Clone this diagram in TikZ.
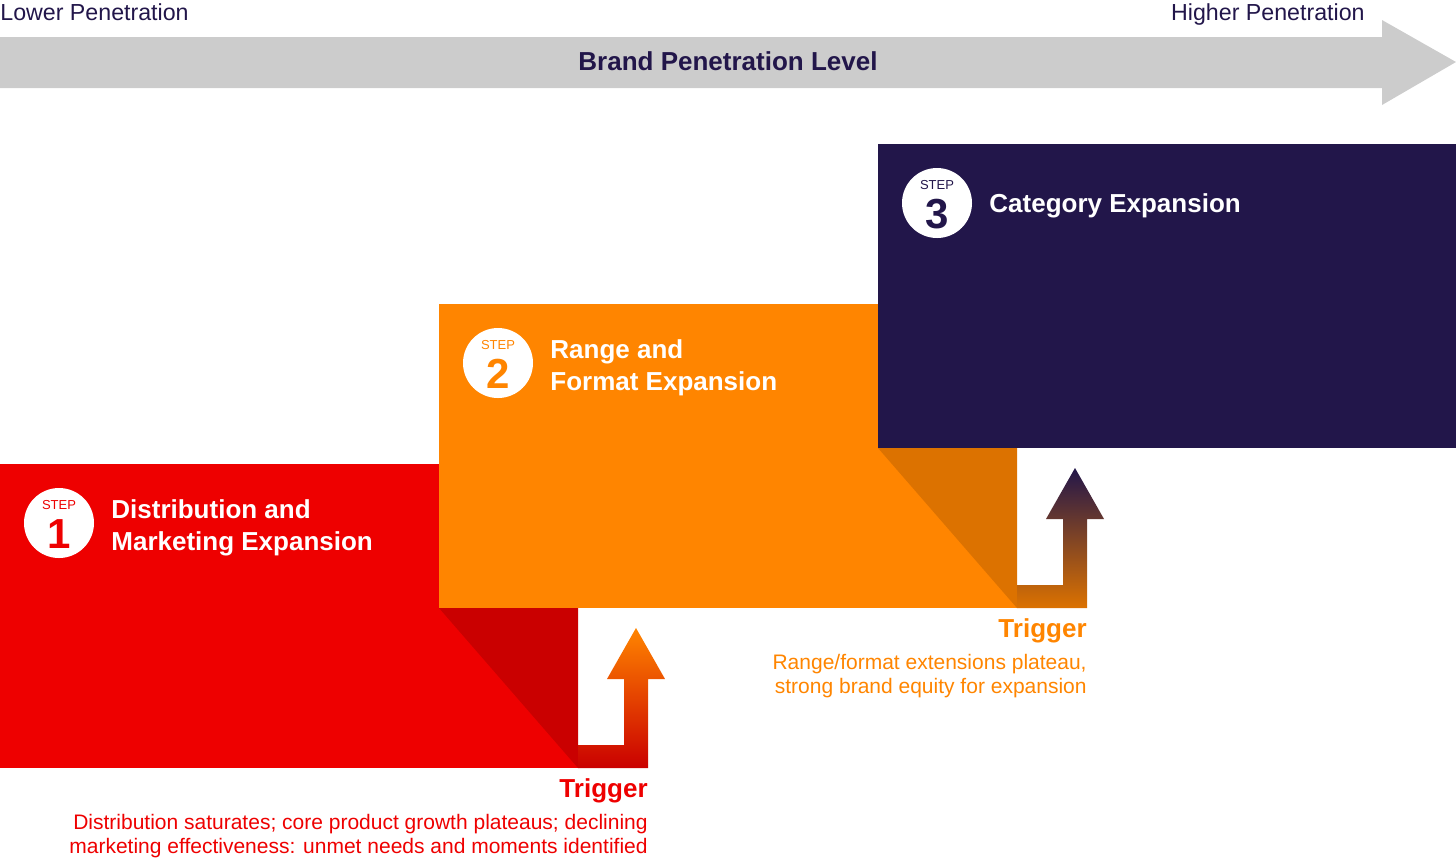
\documentclass[tikz,border=0pt]{standalone}
\usepackage{fontspec}
\setmainfont{Liberation Sans}
\definecolor{navy}{HTML}{22164A}
\definecolor{stepred}{HTML}{EE0000}
\definecolor{shadowred}{HTML}{CA0000}
\definecolor{steporange}{HTML}{FF8500}
\definecolor{shadoworange}{HTML}{DC7200}
\definecolor{bargrey}{HTML}{CCCCCC}
\begin{document}
\begin{tikzpicture}[x=0.5pt, y=-0.5pt, inner sep=0pt,
	stepdot/.style={circle, fill=white, minimum size=35pt},
	steplabel/.style={anchor=base, font=\fontsize{6.5}{8}\selectfont},
	stepnum/.style={anchor=base, font=\bfseries\fontsize{21}{24}\selectfont},
	steptitle/.style={anchor=base west, align=left, text=white, font=\bfseries\fontsize{13}{16}\selectfont},
	trigger/.style={anchor=base east, font=\bfseries\fontsize{13}{16}\selectfont},
	triggertext/.style={anchor=base east, align=right, font=\fontsize{10.5}{12}\selectfont},
	endlabel/.style={text=navy, font=\fontsize{11.6}{14}\selectfont}]
	\useasboundingbox (0,0) rectangle (1456,859);
	% penetration bar
	\fill[bargrey] (0,37) -- (1382,37) -- (1382,20) -- (1456,62) -- (1382,105) -- (1382,88) -- (0,88) -- cycle;
	\node[endlabel, anchor=base west] (lower) at (0,20) {Lower Penetration};
	\node[endlabel, anchor=base east] (higher) at (1365,20) {Higher Penetration};
	\node[anchor=base, text=navy, font=\bfseries\fontsize{13}{16}\selectfont] (level) at (728,70) {Brand Penetration Level};
	%%%%%%%%%%%%%
	% step blocks
	\fill[stepred] (0,464) rectangle (578,768);
	\fill[shadowred] (439,608) -- (578,608) -- (578,768) -- cycle;
	\fill[steporange] (439,304) rectangle (1017,608);
	\fill[shadoworange] (878,448) -- (1017,448) -- (1017,608) -- cycle;
	\fill[navy] (878,144) rectangle (1456,448);
	% trigger arrows
	\shade[top color=steporange, middle color=orange!60!red, bottom color=shadowred]
		(578,745) -- (624,745) -- (624,679) -- (607,679) -- (636,628) -- (665,679) -- (648,679) -- (648,768) -- (578,768) -- cycle;
	\shade[top color=navy, middle color=brown!80!orange, bottom color=shadoworange]
		(1017,585) -- (1063,585) -- (1063,519) -- (1046,519) -- (1075,468) -- (1104,519) -- (1087,519) -- (1087,608) -- (1017,608) -- cycle;
	%%%%%%%%%%%%%
	% step 1
	\node[stepdot] (dot1) at (59,523) {};
	\node[steplabel, text=stepred] (step1) at (59,509) {STEP};
	\node[stepnum, text=stepred] (num1) at (59,548) {1};
	\node[steptitle] (title1) at (111,550) {Distribution and\\Marketing Expansion};
	% step 2
	\node[stepdot] (dot2) at (498,363) {};
	\node[steplabel, text=steporange] (step2) at (498,349) {STEP};
	\node[stepnum, text=steporange] (num2) at (498,388) {2};
	\node[steptitle] (title2) at (550,390) {Range and\\Format Expansion};
	% step 3
	\node[stepdot] (dot3) at (937,203) {};
	\node[steplabel, text=navy] (step3) at (937,189) {STEP};
	\node[stepnum, text=navy] (num3) at (937,228) {3};
	\node[steptitle] (title3) at (989,212) {Category Expansion};
	%%%%%%%%%%%%%
	% triggers
	\node[trigger, text=stepred] (trig1) at (648,797) {Trigger};
	\node[triggertext, text=stepred] (trigtext1) at (648,853) {Distribution saturates; core product growth plateaus; declining\\marketing effectiveness: unmet needs and moments identified};
	\node[trigger, text=steporange] (trig2) at (1087,637) {Trigger};
	\node[triggertext, text=steporange] (trigtext2) at (1087,693) {Range/format extensions plateau,\\strong brand equity for expansion};
\end{tikzpicture}
\end{document}
